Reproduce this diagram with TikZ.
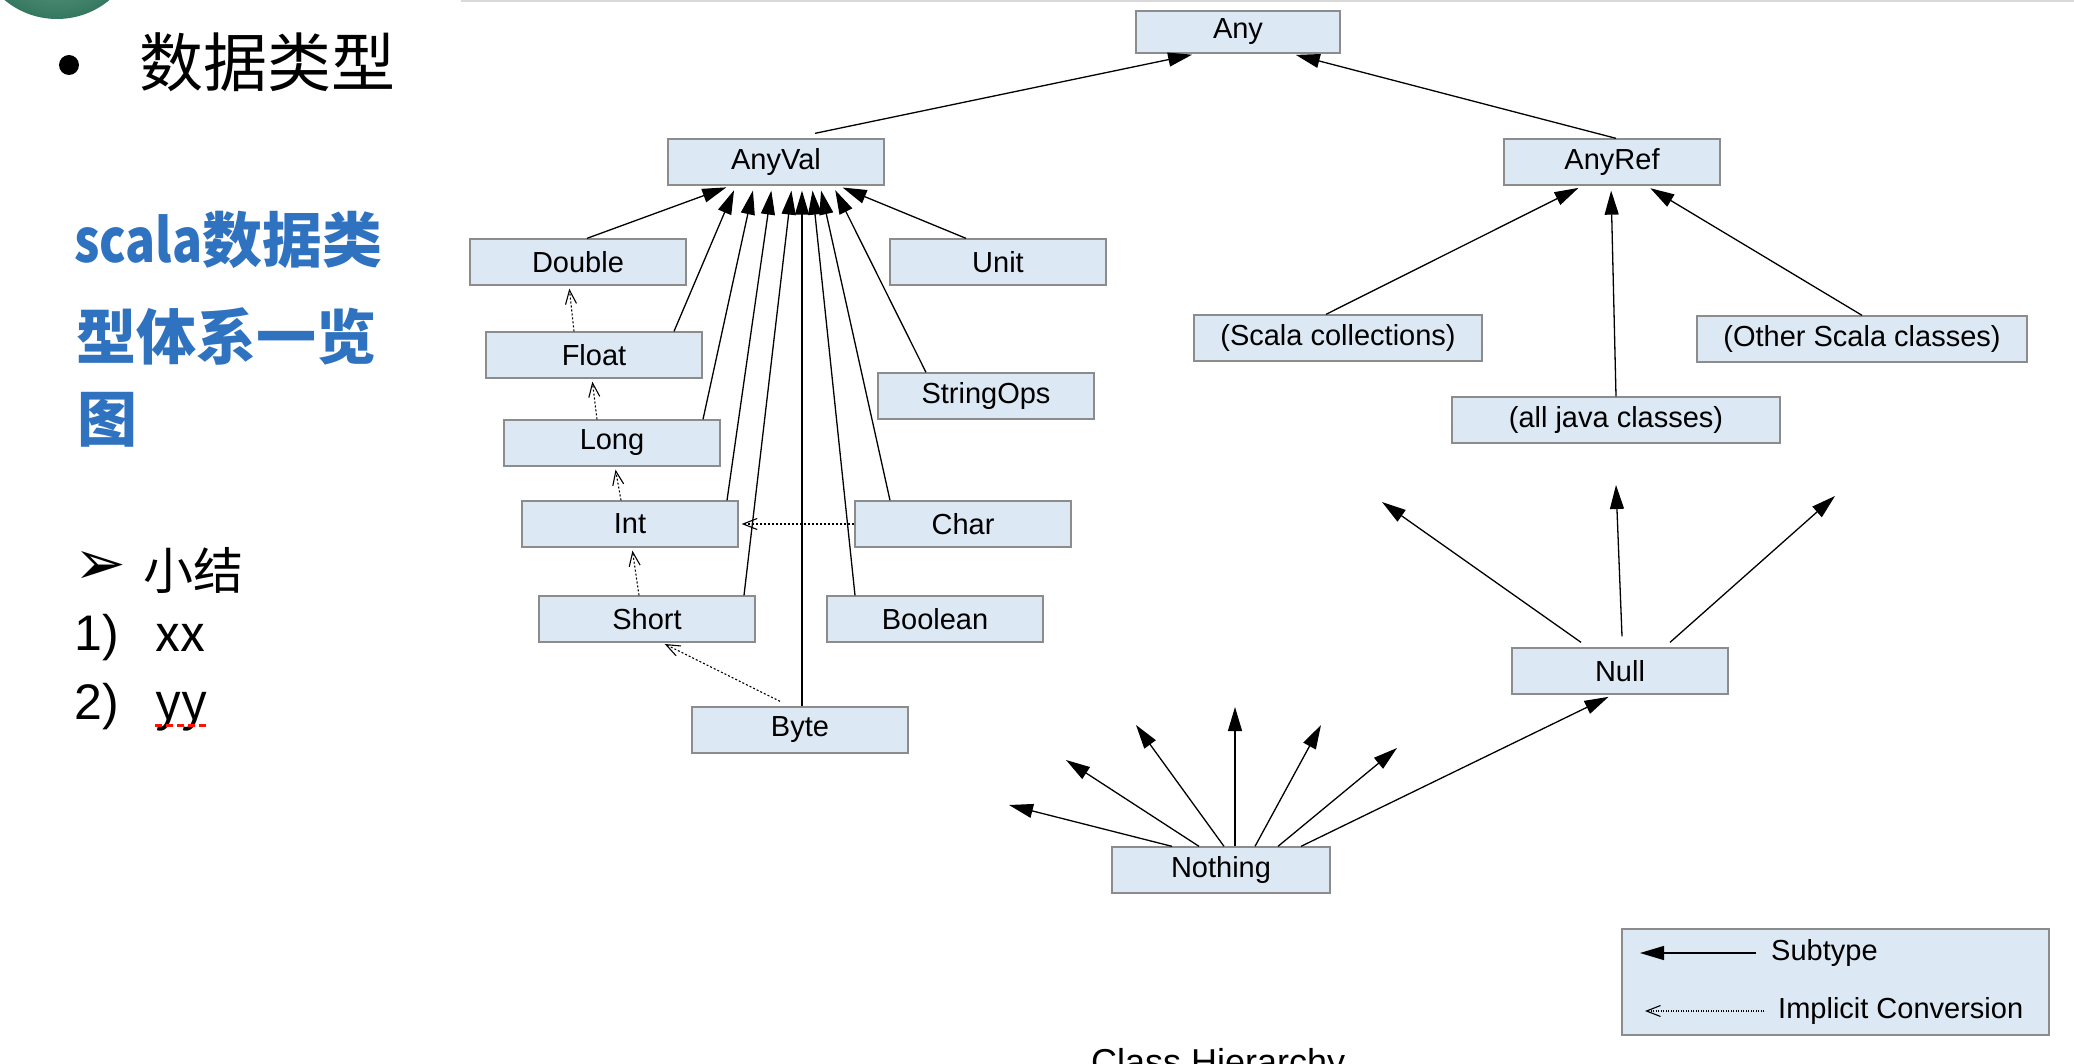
\documentclass[tikz,border=0pt]{standalone}
\usepackage{fontspec}
\setmainfont{Liberation Sans}
\newfontfamily\cjk{Noto Sans CJK SC}
\newfontfamily\dingfont{DejaVu Sans}
\usetikzlibrary{arrows.meta, positioning}
\definecolor{clsFill}{HTML}{DCE8F3}
\definecolor{clsLine}{HTML}{8C8C8C}
\definecolor{ttlBlue}{HTML}{2F72C0}
\definecolor{logoGreen}{HTML}{3D8C70}

\begin{document}
\begin{tikzpicture}[x=1pt, y=-1pt,
  cls/.style={draw=clsLine, fill=clsFill, line width=1.3pt, inner sep=0pt,
              minimum width=#1, minimum height=46pt, font=\fontsize{29}{34}\selectfont},
  cls/.default=216pt,
  sub/.style={line width=1.3pt, -{Triangle[length=24pt,width=14pt]}, shorten >=5pt},
  conv/.style={line width=1.1pt, dash pattern=on 2pt off 2pt,
               -{Straight Barb[length=14pt,width=11pt]}, shorten >=3pt},
  side/.style={anchor=west, inner sep=0pt},
  blue/.style={side, text=ttlBlue, font=\cjk\bfseries\fontsize{60}{66}\selectfont},
  item/.style={anchor=base west, inner sep=0pt, font=\cjk\fontsize{50}{56}\selectfont},
]
  \useasboundingbox (0,0) rectangle (2074,1064);
  \clip (0,0) rectangle (2074,1064);

  % slide side
  \shade[inner color=logoGreen!65!white, outer color=logoGreen!85!black] (57,-63) circle[radius=82pt];
  \draw[gray!30, line width=2pt] (461,1) -- (2074,1);
  \fill (69,65) circle[radius=10pt];
  \node[side, font=\cjk\fontsize{64}{70}\selectfont] (ttl) at (139,62) {数据类型};
  \node[blue] (blue1) at (74,240) {{\addfontfeature{FakeStretch=0.83}scala}数据类};
  \node[blue] (blue2) at (76,336) {型体系一览};
  \node[blue] (blue3) at (77,420) {图};
  \node[side, font=\dingfont\fontsize{62}{68}\selectfont] (mark) at (74,568) {➢};
  \node[side, font=\cjk\fontsize{50}{56}\selectfont] (sumry) at (143,570) {小结};
  \node[item, font=\fontsize{50}{56}\selectfont] (num1) at (74,650) {1)};
  \node[item] (item1) at (155,651) {xx};
  \node[item, font=\fontsize{50}{56}\selectfont] (num2) at (74,719) {2)};
  \node[item] (item2) at (155,719) {yy};
  \draw[red!85!orange, line width=3pt, dash pattern=on 7pt off 4pt]
    ([yshift=-6pt]item2.base west) -- ([yshift=-6pt]item2.base east);

  % classes
  \node[cls=204pt, minimum height=42pt] (any) at (1238,32) {Any};
  \node[cls] (anyval) at (776,162) {AnyVal};
  \node[cls] (anyref) at (1612,162) {AnyRef};
  \node[cls] (dbl) at (578,262) {Double};
  \node[cls] (unit) at (998,262) {Unit};
  \node[cls] (flt) at (594,355) {Float};
  \node[cls] (sops) at (986,396) {StringOps};
  \node[cls] (lng) at (612,443) {Long};
  \node[cls] (int) at (630,524) {Int};
  \node[cls] (chr) at (963,524) {Char};
  \node[cls] (sht) at (647,619) {Short};
  \node[cls] (bool) at (935,619) {Boolean};
  \node[cls] (byt) at (800,730) {Byte};
  \node[cls=288pt] (scoll) at (1338,338) {(Scala collections)};
  \node[cls=330pt] (other) at (1862,339) {(Other Scala classes)};
  \node[cls=328pt] (java) at (1616,420) {(all java classes)};
  \node[cls] (null) at (1620,671) {Null};
  \node[cls=218pt] (nothing) at (1221,870) {Nothing};

  % subtype
  \draw[sub] ([xshift=39pt,yshift=5pt]anyval.north) -- ([xshift=-41pt]any.south);
  \draw[sub] ([xshift=4pt]anyref.north) -- ([xshift=53pt]any.south);
  \draw[sub] ([xshift=9pt]dbl.north) -- ([xshift=-45pt]anyval.south);
  \draw[sub] ([xshift=80pt]flt.north) -- ([xshift=-40pt]anyval.south);
  \draw[sub] ([xshift=91pt]lng.north) -- ([xshift=-22pt]anyval.south);
  \draw[sub] ([xshift=97pt]int.north) -- ([xshift=-4pt]anyval.south);
  \draw[sub] ([xshift=97pt]sht.north) -- ([xshift=16pt]anyval.south);
  \draw[sub] ([xshift=2pt]byt.north) -- ([xshift=26pt]anyval.south);
  \draw[sub] ([xshift=-80pt]bool.north) -- ([xshift=36pt]anyval.south);
  \draw[sub] ([xshift=-73pt]chr.north) -- ([xshift=44pt]anyval.south);
  \draw[sub] ([xshift=-60pt]sops.north) -- ([xshift=57pt]anyval.south);
  \draw[sub] ([xshift=-32pt]unit.north) -- ([xshift=62pt]anyval.south);
  \draw[sub] ([xshift=-12pt]scoll.north) -- ([xshift=-29pt]anyref.south);
  \draw[sub] (java.north) -- ([xshift=-1pt]anyref.south);
  \draw[sub] (other.north) -- ([xshift=34pt]anyref.south);

  % implicit conversion
  \draw[conv] ([xshift=-20pt]flt.north) -- ([xshift=-9pt]dbl.south);
  \draw[conv] ([xshift=-15pt]lng.north) -- ([xshift=-2pt]flt.south);
  \draw[conv] ([xshift=-9pt]int.north) -- ([xshift=3pt]lng.south);
  \draw[conv] ([xshift=-8pt]sht.north) -- ([xshift=2pt]int.south);
  \draw[conv] ([xshift=-20pt,yshift=5pt]byt.north) -- ([xshift=15pt]sht.south);
  \draw[conv] (chr.west) -- (int.east);

  % Null and Nothing
  \coordinate (nu1) at (1382,502);
  \coordinate (nu2) at (1616,485);
  \coordinate (nu3) at (1835,496);
  \draw[sub, shorten >=0pt] ([xshift=-39pt,yshift=5pt]null.north) -- (nu1);
  \draw[sub, shorten >=0pt] ([xshift=2pt,yshift=11pt]null.north) -- (nu2);
  \draw[sub, shorten >=0pt] ([xshift=50pt,yshift=5pt]null.north) -- (nu3);
  \coordinate (nt1) at (1009,805);
  \coordinate (nt2) at (1066,760);
  \coordinate (nt3) at (1136,725);
  \coordinate (nt4) at (1235,707);
  \coordinate (nt5) at (1321,725);
  \coordinate (nt6) at (1397,748);
  \foreach \dx/\tip in {-49/nt1, -22/nt2, 3/nt3, 14/nt4, 34/nt5, 57/nt6}
    \draw[sub, shorten >=0pt] ([xshift=\dx pt]nothing.north) -- (\tip);
  \draw[sub] ([xshift=80pt]nothing.north) -- ([xshift=-7pt]null.south);

  % legend
  \node[draw=clsLine, fill=clsFill, line width=1.3pt, inner sep=0pt,
        minimum width=427pt, minimum height=106pt] (legend) at (1835.5,982) {};
  \node[side, font=\fontsize{29}{34}\selectfont] (lsub) at (1771,953) {Subtype};
  \node[side, font=\fontsize{29}{34}\selectfont] (lconv) at (1778,1011) {Implicit Conversion};
  \coordinate (lsubtip) at (1640,953);
  \coordinate (lconvtip) at (1645,1011);
  \draw[sub, shorten >=0pt] ([xshift=-15pt]lsub.west) -- (lsubtip);
  \draw[conv, shorten >=0pt, dash pattern=on 1pt off 1.5pt] ([xshift=-14pt]lconv.west) -- (lconvtip);

  \node[anchor=base west, inner sep=0pt, font=\fontsize{36}{40}\selectfont] (caption) at (1091,1074) {Class Hierarchy};
\end{tikzpicture}
\end{document}
